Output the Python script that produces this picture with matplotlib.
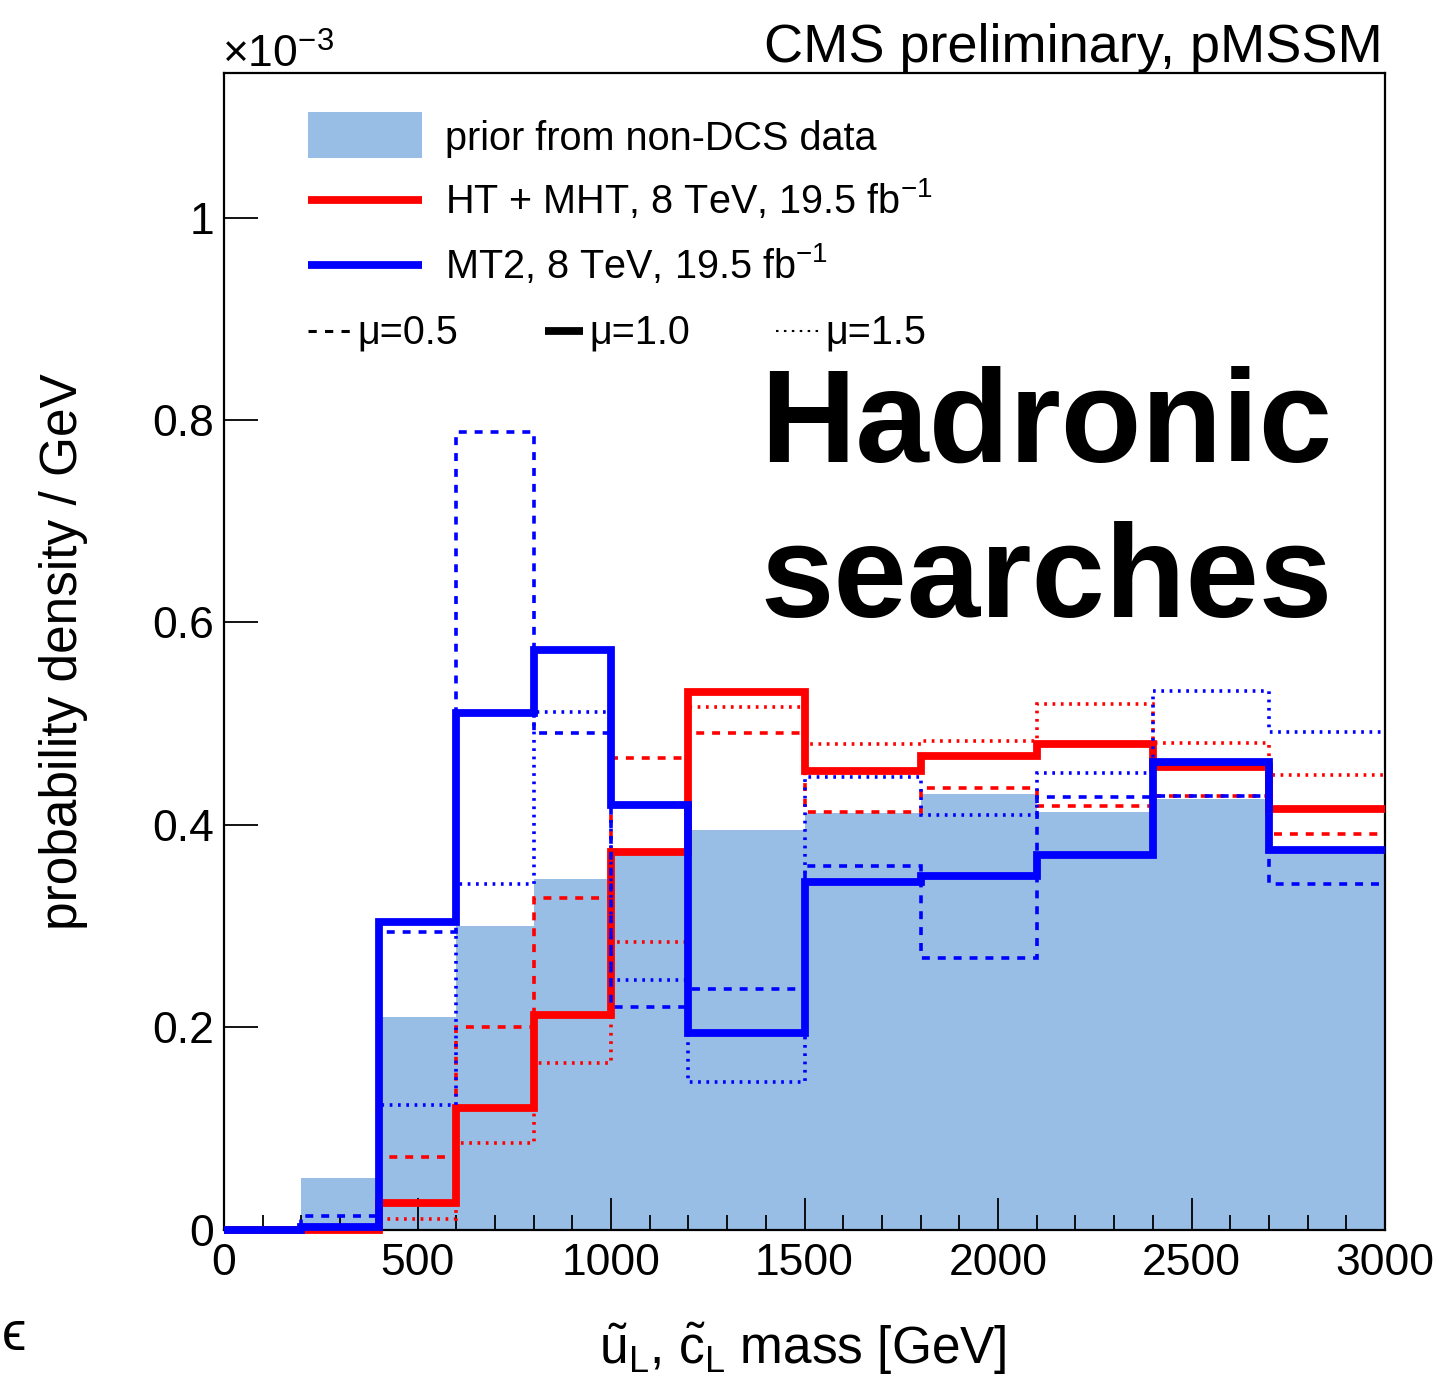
import numpy as np
import matplotlib
matplotlib.use("Agg")
import matplotlib.pyplot as plt
from matplotlib.lines import Line2D
from matplotlib.patches import Rectangle

plt.rcParams['font.family'] = ['Liberation Sans', 'DejaVu Sans']
plt.rcParams['mathtext.fontset'] = 'custom'
plt.rcParams['mathtext.rm'] = 'Liberation Sans'
plt.rcParams['mathtext.it'] = 'Liberation Sans:italic'
plt.rcParams['mathtext.bf'] = 'Liberation Sans:bold'

# squark mass bin edges [GeV]
mass_edges = [0, 200, 400, 600, 800, 1000, 1200, 1500, 1800, 2100, 2400, 2700, 3000]

# probability density per GeV, in units of 1e-3
prior_nondcs = [0.0, 0.051, 0.210, 0.300, 0.346, 0.370, 0.395, 0.412, 0.430, 0.413, 0.425, 0.378]

htmht_mu05 = [0.0, 0.0, 0.072, 0.200, 0.328, 0.466, 0.491, 0.413, 0.436, 0.419, 0.428, 0.391]
htmht_mu10 = [0.0, 0.0, 0.026, 0.120, 0.212, 0.373, 0.531, 0.453, 0.468, 0.480, 0.457, 0.416]
htmht_mu15 = [0.0, 0.0, 0.010, 0.085, 0.165, 0.284, 0.516, 0.480, 0.483, 0.519, 0.481, 0.449]

mt2_mu05 = [0.0, 0.013, 0.294, 0.788, 0.491, 0.220, 0.238, 0.359, 0.268, 0.427, 0.428, 0.341]
mt2_mu10 = [0.0, 0.002, 0.304, 0.510, 0.573, 0.420, 0.194, 0.343, 0.349, 0.370, 0.462, 0.375]
mt2_mu15 = [0.0, 0.003, 0.123, 0.341, 0.511, 0.247, 0.146, 0.447, 0.410, 0.451, 0.532, 0.492]

x_ticks = [0, 500, 1000, 1500, 2000, 2500, 3000]
y_ticks = [0, 0.2, 0.4, 0.6, 0.8, 1.0]
y_ticklabels = ['0', '0.2', '0.4', '0.6', '0.8', '1']

PRIOR_COLOR = '#99bee5'
RED = '#ff0000'
BLUE = '#0000ff'
LW_THICK = 5.6
LW_THIN = 2.6
DASHED = (0, (2.2, 2.2))
DOTTED = (0, (0.75, 1.55))
LEG_FS = 28.5

W, H = 1439, 1381
fig = plt.figure(figsize=(W / 100, H / 100), dpi=100)


def fx(px):
    return px / W


def fy(py):
    return 1 - py / H


ax = fig.add_axes([fx(224), fy(1229.5), fx(1385) - fx(224), fy(73) - fy(1229.5)])
ax.set_axisbelow(False)

ax.stairs(prior_nondcs, mass_edges, fill=True, color=PRIOR_COLOR, lw=0, zorder=1)

series = [
    (htmht_mu05, RED, LW_THIN, DASHED),
    (htmht_mu15, RED, LW_THIN, DOTTED),
    (htmht_mu10, RED, LW_THICK, 'solid'),
    (mt2_mu05, BLUE, LW_THIN, DASHED),
    (mt2_mu15, BLUE, LW_THIN, DOTTED),
    (mt2_mu10, BLUE, LW_THICK, 'solid'),
]
for vals, col, lw, ls in series:
    ax.stairs(vals, mass_edges, baseline=None, color=col, lw=lw, linestyle=ls,
              joinstyle='miter', zorder=3, clip_on=False)

ax.set_xlim(0, 3000)
ax.set_ylim(0, 1.143)
ax.set_xticks(x_ticks)
ax.set_xticks(np.arange(0, 3001, 100), minor=True)
ax.set_yticks(y_ticks)
ax.set_yticklabels(y_ticklabels)
ax.tick_params(axis='x', which='major', direction='in', length=23, width=1.3,
               labelsize=32, pad=10)
ax.tick_params(axis='x', which='minor', direction='in', length=11, width=1.3)
ax.tick_params(axis='y', which='major', direction='in', length=24.5, width=1.3,
               labelsize=32, pad=7)
ax.tick_params(axis='y', which='minor', left=False)
for sp in ax.spines.values():
    sp.set_linewidth(1.6)

# axis titles and headers
fig.text(fx(64), fy(652), 'probability density / GeV', rotation=90,
         ha='center', va='center', fontsize=37)
fig.text(fx(803), fy(1364),
         r'$\tilde{\mathrm{u}}_{\mathrm{L}}$, $\tilde{\mathrm{c}}_{\mathrm{L}}$ mass [GeV]',
         ha='center', va='baseline', fontsize=37)
fig.text(fx(222), fy(68), r'×$10^{-3}$', ha='left', va='baseline', fontsize=32)
fig.text(fx(1383), fy(62), 'CMS preliminary, pMSSM', ha='right', va='baseline', fontsize=39)
fig.text(fx(760), fy(462), 'Hadronic', ha='left', va='baseline', fontsize=95, fontweight='bold')
fig.text(fx(760), fy(617), 'searches', ha='left', va='baseline', fontsize=95, fontweight='bold')
fig.text(fx(2), fy(1350), 'ϵ', ha='left', va='baseline', fontsize=40)

# legend drawn in an overlay with pixel coordinates
lay = fig.add_axes([0, 0, 1, 1], zorder=5)
lay.set_xlim(0, W)
lay.set_ylim(H, 0)
lay.axis('off')
lay.patch.set_alpha(0)

lay.add_patch(Rectangle((308, 112), 114, 46, color=PRIOR_COLOR, lw=0))
lay.text(445, 150, 'prior from non-DCS data', fontsize=LEG_FS, va='baseline')
lay.add_line(Line2D([308, 422], [200, 200], color=RED, lw=LW_THICK, solid_capstyle='butt'))
lay.text(445, 213, r'HT + MHT, 8 TeV, 19.5 fb$^{-1}$', fontsize=LEG_FS, va='baseline')
lay.add_line(Line2D([308, 422], [265, 265], color=BLUE, lw=LW_THICK, solid_capstyle='butt'))
lay.text(445, 278, r'MT2, 8 TeV, 19.5 fb$^{-1}$', fontsize=LEG_FS, va='baseline')

lay.add_line(Line2D([308, 350], [331, 331], color='black', lw=2.2, linestyle=(0, (2.7, 2.7)),
                    dash_capstyle='butt'))
lay.text(357, 343, 'μ=0.5', fontsize=LEG_FS, va='baseline')
lay.add_line(Line2D([545, 583], [331, 331], color='black', lw=5.6, solid_capstyle='butt'))
lay.text(589, 343, 'μ=1.0', fontsize=LEG_FS, va='baseline')
lay.add_line(Line2D([776, 820], [331, 331], color='black', lw=1.5, linestyle=(0, (1.2, 2.6)),
                    dash_capstyle='butt'))
lay.text(825, 343, 'μ=1.5', fontsize=LEG_FS, va='baseline')

fig.savefig('out.png', dpi=100)
